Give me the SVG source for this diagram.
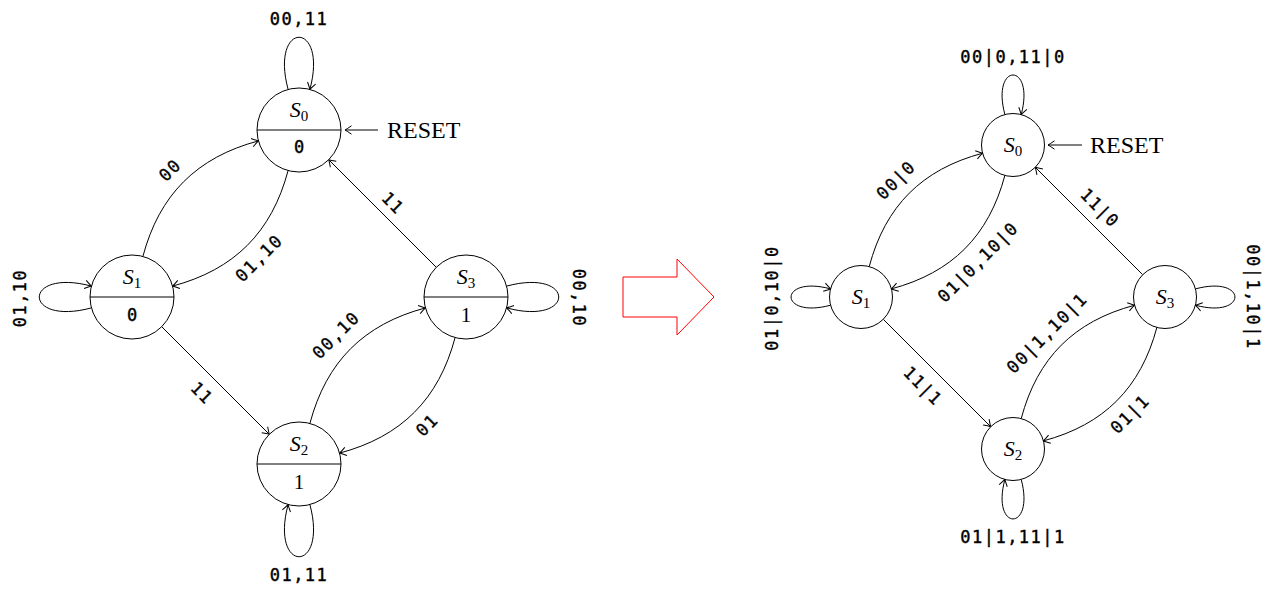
<svg xmlns="http://www.w3.org/2000/svg" width="1275" height="592" viewBox="0 0 1275 592">
<style>
  .nd circle { fill: #fff; stroke: #000; stroke-width: 1; }
  .nd line { stroke: #000; stroke-width: 1; }
  .st { font-family: "Liberation Serif", "DejaVu Serif", serif; font-size: 22px; font-style: italic; text-anchor: middle; fill: #000; }
  .sub { font-style: normal; font-size: 15px; }
  .bit { font-family: "DejaVu Sans Mono", "Liberation Mono", monospace; font-size: 17px; text-anchor: middle; fill: #000; stroke: #000; stroke-width: 0.4px; }
  .one { font-family: "Liberation Serif", "DejaVu Serif", serif; font-size: 21px; text-anchor: middle; fill: #000; }
  .lbl { font-family: "DejaVu Sans Mono", "Liberation Mono", monospace; font-size: 17px; letter-spacing: 1.5px; text-anchor: middle; fill: #000; stroke: #000; stroke-width: 0.4px; }
  .rs { font-family: "Liberation Serif", "DejaVu Serif", serif; font-size: 24px; fill: #000; }
  .ed { fill: none; stroke: #000; stroke-width: 1; marker-end: url(#ah); }
</style>
<defs>
  <marker id="ah" markerUnits="userSpaceOnUse" markerWidth="14" markerHeight="12" viewBox="-8 -6 10 12" refX="0" refY="0" orient="auto">
    <path d="M -6.5,-4.2 Q -2.2,-1.2 0,0 Q -2.2,1.2 -6.5,4.2" fill="none" stroke="#000" stroke-width="1"/>
  </marker>
</defs>

<!-- connectors -->
<g id="connectors">
  <!-- left diagram -->
  <path class="ed" d="M 142.9,256.4 C 159.4,194.6 196.6,157.4 258.4,140.9"/>
  <path class="ed" d="M 288.1,170.6 C 271.6,232.4 234.4,269.6 172.6,286.1"/>
  <path class="ed" d="M 309.9,423.4 C 326.4,361.6 363.6,324.4 425.4,307.9"/>
  <path class="ed" d="M 455.1,337.6 C 438.6,399.4 401.4,436.6 339.6,453.1"/>
  <path class="ed" d="M 436.3,267.3 L 328.7,159.7"/>
  <path class="ed" d="M 161.7,326.7 L 269.3,434.3"/>
  <path class="ed" d="M 288.1,89.4 C 269.5,19.9 328.5,19.9 309.9,89.4"/>
  <path class="ed" d="M 91.4,307.9 C 21.9,326.5 21.9,267.5 91.4,286.1"/>
  <path class="ed" d="M 506.6,286.1 C 576.1,267.5 576.1,326.5 506.6,307.9"/>
  <path class="ed" d="M 309.9,504.6 C 328.5,574.1 269.5,574.1 288.1,504.6"/>
  <path class="ed" d="M 378,130 L 345,130"/>

  <text class="lbl" transform="translate(170,170) rotate(-45)" dy="0.35em">00</text>
  <text class="lbl" transform="translate(259,258) rotate(-45)" dy="0.35em">01,10</text>
  <text class="lbl" transform="translate(336,335) rotate(-45)" dy="0.35em">00,10</text>
  <text class="lbl" transform="translate(427,425) rotate(-45)" dy="0.35em">01</text>
  <text class="lbl" transform="translate(393,203) rotate(45)" dy="0.35em">11</text>
  <text class="lbl" transform="translate(202,393) rotate(45)" dy="0.35em">11</text>
  <text class="lbl" x="299" y="25">00,11</text>
  <text class="lbl" transform="translate(20,298) rotate(-90)" dy="0.35em">01,10</text>
  <text class="lbl" transform="translate(579,298) rotate(90)" dy="0.35em">00,10</text>
  <text class="lbl" x="299" y="581">01,11</text>
  <text class="rs" x="387" y="138">RESET</text>

  <!-- right diagram -->
  <path class="ed" d="M 869.2,266.6 C 885.4,205.9 921.9,169.4 982.6,153.2"/>
  <path class="ed" d="M 1004.9,175.4 C 988.6,236.1 952.1,272.6 891.4,288.9"/>
  <path class="ed" d="M 1021.2,418.6 C 1037.4,357.9 1073.9,321.4 1134.6,305.2"/>
  <path class="ed" d="M 1156.9,327.4 C 1140.6,388.1 1104.1,424.6 1043.4,440.9"/>
  <path class="ed" d="M 1142.7,274.7 L 1035.3,167.3"/>
  <path class="ed" d="M 883.3,319.3 L 990.7,426.7"/>
  <path class="ed" d="M 1004.9,114.6 C 990.7,61.8 1035.3,61.8 1021.2,114.6"/>
  <path class="ed" d="M 830.6,305.2 C 777.9,319.3 777.9,274.7 830.6,288.9"/>
  <path class="ed" d="M 1195.4,288.9 C 1248.1,274.7 1248.1,319.3 1195.4,305.2"/>
  <path class="ed" d="M 1021.2,479.4 C 1035.3,532.1 990.7,532.1 1004.9,479.4"/>
  <path class="ed" d="M 1082,145 L 1048,145"/>

  <text class="lbl" transform="translate(896,180) rotate(-45)" dy="0.35em">00|0</text>
  <text class="lbl" transform="translate(978,262) rotate(-45)" dy="0.35em">01|0,10|0</text>
  <text class="lbl" transform="translate(1047,333) rotate(-45)" dy="0.35em">00|1,10|1</text>
  <text class="lbl" transform="translate(1130,414) rotate(-45)" dy="0.35em">01|1</text>
  <text class="lbl" transform="translate(1100,208) rotate(45)" dy="0.35em">11|0</text>
  <text class="lbl" transform="translate(923,386) rotate(45)" dy="0.35em">11|1</text>
  <text class="lbl" x="1013" y="63">00|0,11|0</text>
  <text class="lbl" transform="translate(772,298) rotate(-90)" dy="0.35em">01|0,10|0</text>
  <text class="lbl" transform="translate(1253,297) rotate(90)" dy="0.35em">00|1,10|1</text>
  <text class="lbl" x="1013" y="543">01|1,11|1</text>
  <text class="rs" x="1090" y="153">RESET</text>
</g>

<!-- left nodes (Moore) -->
<g id="L_S0" class="nd">
  <circle cx="299" cy="130" r="42"/>
  <line x1="257" y1="130" x2="341" y2="130"/>
  <text class="st" x="299" y="117">S<tspan class="sub" dy="4">0</tspan></text>
  <text class="bit" x="299" y="153">0</text>
</g>
<g id="L_S1" class="nd">
  <circle cx="132" cy="297" r="42"/>
  <line x1="90" y1="297" x2="174" y2="297"/>
  <text class="st" x="132" y="284">S<tspan class="sub" dy="4">1</tspan></text>
  <text class="bit" x="132" y="321">0</text>
</g>
<g id="L_S2" class="nd">
  <circle cx="299" cy="464" r="42"/>
  <line x1="257" y1="464" x2="341" y2="464"/>
  <text class="st" x="299" y="451">S<tspan class="sub" dy="4">2</tspan></text>
  <text class="one" x="299" y="489">1</text>
</g>
<g id="L_S3" class="nd">
  <circle cx="466" cy="297" r="42"/>
  <line x1="424" y1="297" x2="508" y2="297"/>
  <text class="st" x="466" y="284">S<tspan class="sub" dy="4">3</tspan></text>
  <text class="one" x="466" y="322">1</text>
</g>

<!-- transformation arrow -->
<g id="arrow">
  <polygon points="623,277 677,277 677,259 714,297 677,335 677,317 623,317" fill="none" stroke="#ff0000" stroke-width="1"/>
</g>

<!-- right nodes (Mealy) -->
<g id="R_S0" class="nd">
  <circle cx="1013" cy="145" r="31.5"/>
  <text class="st" x="1013" y="152">S<tspan class="sub" dy="4">0</tspan></text>
</g>
<g id="R_S1" class="nd">
  <circle cx="861" cy="297" r="31.5"/>
  <text class="st" x="861" y="304">S<tspan class="sub" dy="4">1</tspan></text>
</g>
<g id="R_S2" class="nd">
  <circle cx="1013" cy="449" r="31.5"/>
  <text class="st" x="1013" y="456">S<tspan class="sub" dy="4">2</tspan></text>
</g>
<g id="R_S3" class="nd">
  <circle cx="1165" cy="297" r="31.5"/>
  <text class="st" x="1165" y="304">S<tspan class="sub" dy="4">3</tspan></text>
</g>
</svg>
